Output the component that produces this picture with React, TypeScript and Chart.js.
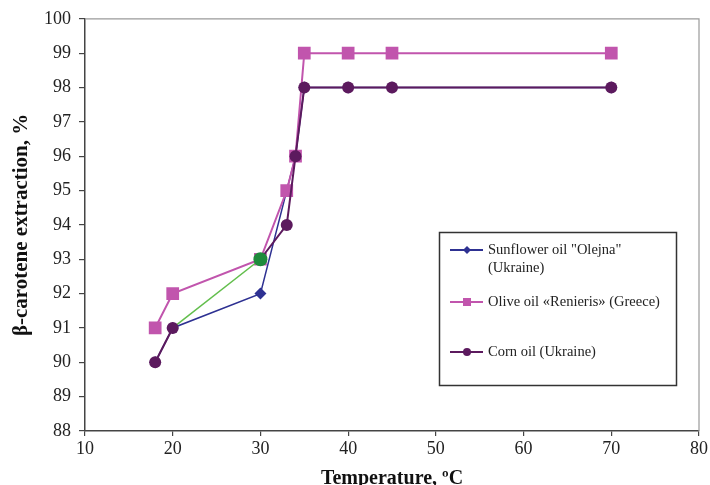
import React, { useEffect, useRef } from "react";
import { Chart, registerables } from "chart.js";

Chart.register(...registerables);

const sunflowerTemps = [18, 20, 30, 34, 35, 40, 45, 70];
const sunflowerValues = [90, 91, 92, 96, 98, 98, 98, 98];
const oliveTemps = [18, 20, 30, 33, 34, 35, 40, 45, 70];
const oliveValues = [91, 92, 93, 95, 96, 99, 99, 99, 99];
const cornTemps = [18, 20, 30, 33, 34, 35, 40, 45, 70];
const cornValues = [90, 91, 93, 94, 96, 98, 98, 98, 98];
const xTicks = [10, 20, 30, 40, 50, 60, 70, 80];
const yTicks = [88, 89, 90, 91, 92, 93, 94, 95, 96, 97, 98, 99, 100];
const seriesNames = ['Sunflower oil "Olejna"|(Ukraine)', "Olive oil «Renieris» (Greece)", "Corn oil (Ukraine)"];

const NAVY = "#2E3192";
const PINK = "#C155AD";
const CORN = "#5C1A5E";
const GREEN_PT = "#1E8B3C";
const GREEN_LN = "#62BE4C";
const SERIF = "'Liberation Serif', 'Times New Roman', serif";

const toPts = (xs: number[], ys: number[]) => xs.map((x, i) => ({ x, y: ys[i] }));

const framePlugin = {
  id: "frame",
  afterDatasetsDraw(chart: any) {
    const { ctx, chartArea } = chart;
    ctx.save();
    ctx.strokeStyle = "#9a9a9a";
    ctx.lineWidth = 1.2;
    ctx.beginPath();
    ctx.moveTo(chartArea.left, chartArea.top);
    ctx.lineTo(chartArea.right, chartArea.top);
    ctx.lineTo(chartArea.right, chartArea.bottom);
    ctx.stroke();
    ctx.restore();
  },
};

const legendPlugin = {
  id: "boxLegend",
  afterDraw(chart: any) {
    const { ctx } = chart;
    ctx.save();
    ctx.fillStyle = "#ffffff";
    ctx.fillRect(439.5, 232.5, 237, 153);
    ctx.strokeStyle = "#333";
    ctx.lineWidth = 1.5;
    ctx.strokeRect(439.5, 232.5, 237, 153);
    const rows = [
      { y: 250, color: NAVY, shape: "diamond" },
      { y: 302, color: PINK, shape: "square" },
      { y: 352, color: CORN, shape: "circle" },
    ];
    ctx.font = `14.5px ${SERIF}`;
    ctx.textBaseline = "middle";
    ctx.textAlign = "left";
    rows.forEach((r, i) => {
      ctx.strokeStyle = r.color;
      ctx.lineWidth = 2;
      ctx.beginPath();
      ctx.moveTo(450, r.y);
      ctx.lineTo(483, r.y);
      ctx.stroke();
      ctx.fillStyle = r.color;
      ctx.beginPath();
      if (r.shape === "diamond") {
        ctx.moveTo(467, r.y - 4);
        ctx.lineTo(471, r.y);
        ctx.lineTo(467, r.y + 4);
        ctx.lineTo(463, r.y);
        ctx.closePath();
      } else if (r.shape === "square") {
        ctx.rect(463, r.y - 4, 8, 8);
      } else {
        ctx.arc(467, r.y, 4, 0, Math.PI * 2);
      }
      ctx.fill();
      ctx.fillStyle = "#222";
      const lines = seriesNames[i].split("|");
      lines.forEach((t, j) => ctx.fillText(t, 488, r.y + j * 18));
    });
    ctx.restore();
  },
};

export default function App() {
  const ref = useRef<HTMLCanvasElement>(null);
  useEffect(() => {
    document.body.style.margin = "0";
    const chart = new Chart(ref.current as HTMLCanvasElement, {
      type: "scatter",
      data: {
        datasets: [
          {
            label: "Corn oil (Ukraine)",
            data: toPts(cornTemps, cornValues),
            showLine: true,
            order: 0,
            borderColor: CORN,
            borderWidth: 2,
            segment: {
              borderColor: (c: any) => (c.p0DataIndex === 1 ? GREEN_LN : CORN),
              borderWidth: (c: any) => (c.p0DataIndex === 1 ? 1.5 : 2),
            },
            pointStyle: "circle",
            pointRadius: cornTemps.map((_, i) => (i === 2 ? 7 : 6)),
            pointBackgroundColor: cornTemps.map((_, i) => (i === 2 ? GREEN_PT : CORN)),
            pointBorderColor: cornTemps.map((_, i) => (i === 2 ? GREEN_PT : CORN)),
            pointBorderWidth: 0,
          },
          {
            label: "Olive oil «Renieris» (Greece)",
            data: toPts(oliveTemps, oliveValues),
            showLine: true,
            order: 1,
            borderColor: PINK,
            borderWidth: 2,
            pointStyle: "rect",
            pointRadius: 9,
            pointBackgroundColor: PINK,
            pointBorderColor: PINK,
            pointBorderWidth: 0,
          },
          {
            label: 'Sunflower oil "Olejna" (Ukraine)',
            data: toPts(sunflowerTemps, sunflowerValues),
            showLine: true,
            order: 2,
            borderColor: NAVY,
            borderWidth: 1.5,
            pointStyle: "rectRot",
            pointRadius: 6,
            pointBackgroundColor: NAVY,
            pointBorderColor: NAVY,
            pointBorderWidth: 0,
          },
        ],
      },
      options: {
        animation: false,
        responsive: false,
        maintainAspectRatio: false,
        layout: { padding: { left: 0, right: 11, top: 17, bottom: 0 } },
        plugins: { legend: { display: false }, tooltip: { enabled: false } },
        scales: {
          x: {
            type: "linear",
            min: 10,
            max: 80,
            afterBuildTicks: (s: any) => {
              s.ticks = xTicks.map((v) => ({ value: v }));
            },
            afterFit: (s: any) => {
              s.height = 54;
            },
            grid: { display: true, drawOnChartArea: false, drawTicks: true, tickLength: 5, color: "#444", lineWidth: 1.2 },
            border: { display: true, color: "#444", width: 1.5 },
            ticks: { color: "#222", font: { family: SERIF, size: 18 }, padding: 2, maxRotation: 0 },
            title: {
              display: true,
              text: "Temperature, ºC",
              color: "#111",
              font: { family: SERIF, size: 20, weight: "bold" },
              padding: { top: 0, bottom: -6 },
            },
          },
          y: {
            type: "linear",
            min: 88,
            max: 100,
            afterBuildTicks: (s: any) => {
              s.ticks = yTicks.map((v) => ({ value: v }));
            },
            afterFit: (s: any) => {
              s.width = 85;
            },
            grid: { display: true, drawOnChartArea: false, drawTicks: true, tickLength: 6, color: "#444", lineWidth: 1.2 },
            border: { display: true, color: "#444", width: 1.5 },
            ticks: { color: "#222", font: { family: SERIF, size: 18 }, padding: 8 },
            title: {
              display: true,
              text: "β-carotene extraction, %",
              color: "#111",
              font: { family: SERIF, size: 21, weight: "bold" },
              padding: { top: 9, bottom: 0 },
            },
          },
        },
      },
      plugins: [framePlugin, legendPlugin],
    } as any);
    return () => chart.destroy();
  }, []);
  return (
    <div style={{ width: 710, height: 485, position: "relative", background: "#fff" }}>
      <canvas ref={ref} width={710} height={485} style={{ display: "block" }} />
    </div>
  );
}
